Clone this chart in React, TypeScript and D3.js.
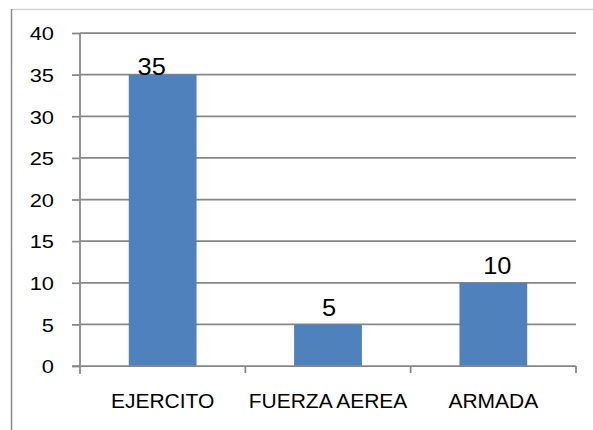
import React, { useEffect, useRef } from "react";
import * as d3 from "d3";

const categories = ["EJERCITO", "FUERZA AEREA", "ARMADA"];
const values = [35, 5, 10];
const yTicks = [0, 5, 10, 15, 20, 25, 30, 35, 40];

const W = 593;
const H = 430;
const M = { top: 33, right: 17, bottom: 64, left: 80 };
const FONT = "Liberation Sans, Arial, sans-serif";
const BAR = "#4f81bd";
const GRID = "#878787";

export default function App() {
  const ref = useRef<SVGSVGElement>(null);

  useEffect(() => {
    const svg = d3.select(ref.current);
    svg.selectAll("*").remove();

    const x = d3
      .scaleBand<string>()
      .domain(categories)
      .range([M.left, W - M.right])
      .paddingInner(0.59)
      .paddingOuter(0.295);
    const y = d3.scaleLinear().domain([0, 40]).range([H - M.bottom, M.top]);

    // outer frame (left and top edges)
    svg
      .append("line")
      .attr("x1", 11.5).attr("x2", W).attr("y1", 9.5).attr("y2", 9.5)
      .attr("stroke", "#d4d4d4").attr("stroke-width", 1.5);
    svg
      .append("line")
      .attr("x1", 11.5).attr("x2", 11.5).attr("y1", 9).attr("y2", H)
      .attr("stroke", "#8c8c8c").attr("stroke-width", 1.5);

    // horizontal gridlines
    svg
      .append("g")
      .selectAll("line")
      .data(yTicks.filter((t) => t > 0))
      .join("line")
      .attr("x1", M.left).attr("x2", W - M.right)
      .attr("y1", (d) => y(d)).attr("y2", (d) => y(d))
      .attr("stroke", GRID).attr("stroke-width", 1.75);

    // bars
    svg
      .append("g")
      .selectAll("rect")
      .data(values)
      .join("rect")
      .attr("x", (_, i) => x(categories[i])!)
      .attr("width", x.bandwidth())
      .attr("y", (d) => y(d))
      .attr("height", (d) => y(0) - y(d))
      .attr("fill", BAR);

    // y axis
    const yAxis = svg
      .append("g")
      .attr("transform", `translate(${M.left},0)`)
      .call(d3.axisLeft(y).tickValues(yTicks).tickSize(8).tickPadding(0));
    yAxis.select(".domain").attr("stroke", GRID).attr("stroke-width", 1.75)
      .attr("d", `M-0,${y(40)}V${y(0) + 8}`);
    yAxis.selectAll(".tick line").attr("stroke", GRID).attr("stroke-width", 1.75);
    yAxis
      .selectAll(".tick text")
      .attr("x", null)
      .attr("dy", null)
      .attr("transform", "translate(-26,6.8) scale(1.15,1)")
      .style("font-family", FONT)
      .style("font-size", "19px")
      .attr("fill", "#000");

    // x axis
    const xAxis = svg
      .append("g")
      .attr("transform", `translate(0,${y(0)})`)
      .call(d3.axisBottom(x).tickSize(0).tickPadding(0));
    xAxis.select(".domain").attr("stroke", GRID).attr("stroke-width", 1.75)
      .attr("d", `M${M.left - 8},0H${W - M.right}`);
    xAxis
      .selectAll(".tick text")
      .attr("y", null)
      .attr("dy", null)
      .attr("transform", "translate(0,42)")
      .style("font-family", FONT)
      .style("font-size", "21px")
      .attr("fill", "#000");

    // category boundary ticks
    const step = x.step();
    const bounds = d3.range(categories.length + 1).map((i) => M.left + i * step);
    svg
      .append("g")
      .selectAll("line")
      .data(bounds.slice(1))
      .join("line")
      .attr("x1", (d) => d).attr("x2", (d) => d)
      .attr("y1", y(0)).attr("y2", y(0) + 7)
      .attr("stroke", GRID).attr("stroke-width", 1.75);

    // value labels
    const labelOffset = [-11, 1, 4];
    const labelLift = [0, 8, 9];
    svg
      .append("g")
      .selectAll("text")
      .data(values)
      .join("text")
      .attr(
        "transform",
        (d, i) =>
          `translate(${x(categories[i])! + x.bandwidth() / 2 + labelOffset[i]},${y(d) - labelLift[i]}) scale(1.08,1)`
      )
      .attr("text-anchor", "middle")
      .style("font-family", FONT)
      .style("font-size", "23.5px")
      .attr("fill", "#000")
      .text((d) => d);
  }, []);

  return (
    <svg
      ref={ref}
      width={W}
      height={H}
      style={{ position: "absolute", left: 0, top: 0, background: "#fff" }}
    />
  );
}
